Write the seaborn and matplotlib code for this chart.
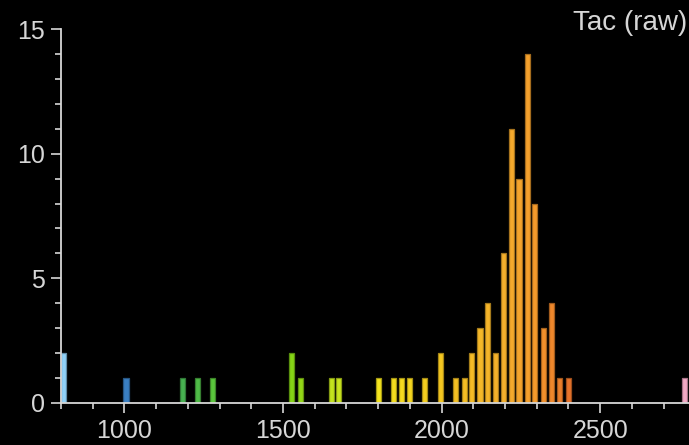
import numpy as np
import pandas as pd
import matplotlib
matplotlib.use("Agg")
import matplotlib.pyplot as plt
from matplotlib.colors import LinearSegmentedColormap, Normalize
from matplotlib.ticker import MultipleLocator
import seaborn as sns

# Histogram of raw Tac values: bar positions and counts
tac_values = [808, 1005, 1182, 1229, 1279, 1526, 1554, 1654, 1675, 1800,
              1849, 1874, 1898, 1947, 1997, 2045, 2073, 2094, 2121, 2144,
              2171, 2194, 2221, 2244, 2270, 2294, 2320, 2347, 2371, 2399,
              2765]
tac_counts = [2, 1, 1, 1, 1, 2, 1, 1, 1, 1,
              1, 1, 1, 1, 2, 1, 1, 2, 3, 4,
              2, 6, 11, 9, 14, 8, 3, 4, 1, 1,
              1]
x_ticks = [1000, 1500, 2000, 2500]
y_ticks = [0, 5, 10, 15]
title = "Tac (raw)"

fg = "#d6d6d6"
sns.set_style("dark", {
    "axes.facecolor": "black",
    "figure.facecolor": "black",
    "axes.edgecolor": fg,
    "text.color": fg,
    "xtick.color": fg,
    "ytick.color": fg,
    "axes.grid": False,
})
plt.rcParams["font.family"] = ["Liberation Sans", "DejaVu Sans"]

# rainbow colour scale running along the value axis
stops = [(800, "#93d4fa"), (1000, "#3a7fc2"), (1180, "#47b24f"),
         (1280, "#5ac63c"), (1530, "#86d414"), (1670, "#cae61e"),
         (1800, "#f4e41e"), (2000, "#f4c620"), (2200, "#f4ae2c"),
         (2300, "#f49a2c"), (2400, "#e8742a"), (2765, "#f4aac6")]
lo, hi = stops[0][0], stops[-1][0]
cmap = LinearSegmentedColormap.from_list(
    "tac", [((v - lo) / (hi - lo), c) for v, c in stops])
norm = Normalize(lo, hi)

fig = plt.figure(figsize=(6.89, 4.45), dpi=100)
ax = fig.add_axes([61 / 689, 1 - 402.7 / 445, 1 - 61 / 689, (402.7 - 29.3) / 445])

df = pd.DataFrame({"tac": tac_values, "count": tac_counts})
sns.barplot(data=df, x="tac", y="count", native_scale=True, errorbar=None,
            width=0.76, color="white", ax=ax)

for p in ax.patches:
    xc = p.get_x() + p.get_width() / 2
    face = np.array(cmap(norm(xc))[:3])
    p.set_facecolor(face)
    p.set_edgecolor(face * 0.68)
    p.set_linewidth(0.9)

ax.set_xlim(800, 2780)
ax.set_ylim(0, 15)
ax.set_xticks(x_ticks)
ax.set_yticks(y_ticks)
ax.xaxis.set_minor_locator(MultipleLocator(100))
ax.yaxis.set_minor_locator(MultipleLocator(1))
ax.set_xlabel("")
ax.set_ylabel("")

for side in ("top", "right"):
    ax.spines[side].set_visible(False)
for side in ("left", "bottom"):
    ax.spines[side].set_linewidth(1.3)
    ax.spines[side].set_color(fg)

ax.tick_params(which="major", direction="out", length=7.5, width=1.2,
               colors=fg, labelsize=18, pad=4)
ax.tick_params(which="minor", direction="out", length=4.2, width=1.2,
               colors=fg)
ax.tick_params(axis="x", which="both", bottom=True)
ax.tick_params(axis="y", which="both", left=True)

fig.text(687 / 689, 1 - 30 / 445, title, ha="right", va="baseline",
         fontsize=20, color=fg)

fig.savefig("out.png", dpi=100, facecolor="black")
